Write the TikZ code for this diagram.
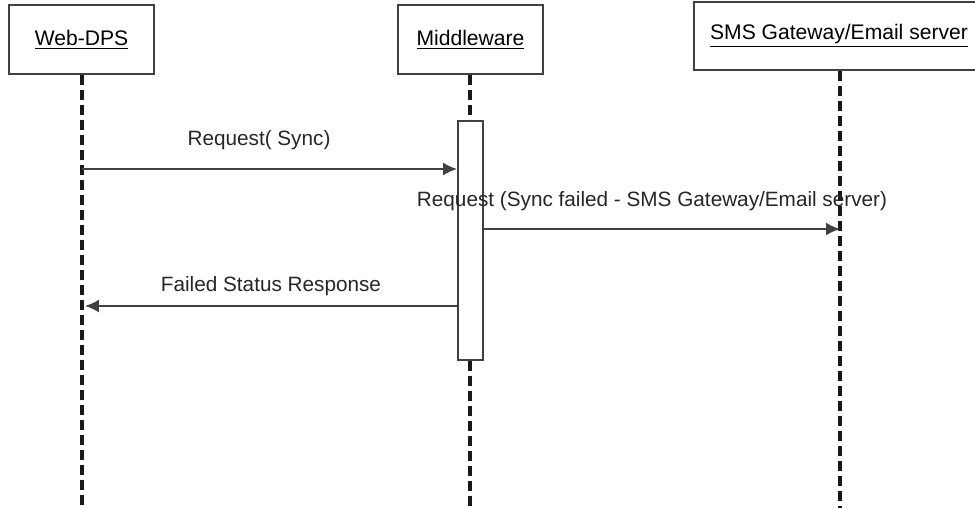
\documentclass[tikz,border=0pt]{standalone}
\usepackage{fontspec}
\setmainfont{Liberation Sans}
\usetikzlibrary{arrows.meta}

\tikzset{
  actor/.style={draw=black!75, line width=1.3pt, fill=white, minimum height=1.38cm},
  lifeline/.style={draw=black!90, line width=2pt, dash pattern=on 0.2cm off 0.1cm},
  activation/.style={draw=black!75, line width=1.1pt, fill=white, minimum width=0.5cm, minimum height=4.78cm},
  msg/.style={draw=black!75, line width=1pt, -{Latex[length=0.28cm,width=0.26cm]}},
  msglabel/.style={font=\fontsize{11.8}{13}\selectfont, text=black!85}
}

\begin{document}
\begin{tikzpicture}[x=0.02cm, y=-0.02cm]
  \useasboundingbox (0,0) rectangle (975,508);
  \clip (0,0) rectangle (975,508);
  % heads
  \node[actor, minimum width=2.9cm] (web) at (81.5,39.5) {\fontsize{12}{13}\selectfont\underline{Web-DPS}};
  \node[actor, minimum width=2.9cm] (mid) at (470.5,39.5) {\fontsize{12}{13}\selectfont\underline{Middleware}};
  \node[actor, minimum width=5.8cm, minimum height=1.36cm] (gw) at (839,36) {\fontsize{12}{13}\selectfont\underline{SMS Gateway/Email server}};
  % lifelines
  \coordinate (webend) at (82,508);
  \coordinate (midend) at (470,508);
  \coordinate (gwend) at (840,508);
  \node[activation] (act) at (470.5,240.5) {};
  \draw[lifeline] (web.south -| webend) -- (webend);
  \draw[lifeline] (mid.south -| midend) -- (act.north -| midend);
  \draw[lifeline] (act.south -| midend) -- (midend);
  \draw[lifeline] (gw.south -| gwend) -- (gwend);
  % messages
  \draw[msg] (webend |- 0,169) -- (act.west |- 0,169);
  \node[msglabel] (m1) at (259,140) {Request( Sync)};
  \draw[msg] (act.east |- 0,229) -- (gwend |- 0,229);
  \node[msglabel] (m2) at (652,201) {Request (Sync failed - SMS Gateway/Email server)};
  \draw[msg] (act.west |- 0,306) -- ([xshift=0.06cm]webend |- 0,306);
  \node[msglabel] (m3) at (271,286) {Failed Status Response};
\end{tikzpicture}
\end{document}
